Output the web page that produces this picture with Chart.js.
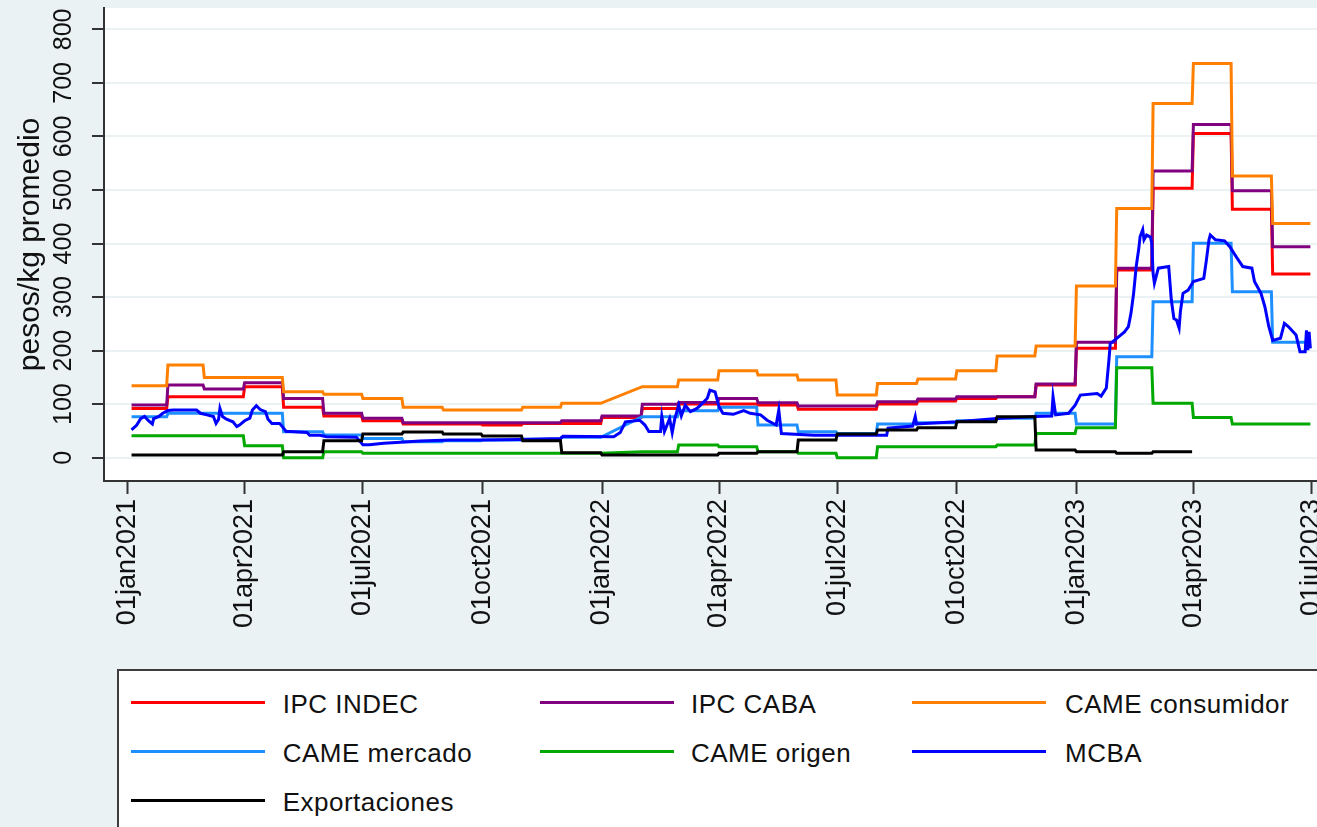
<!DOCTYPE html>
<html><head><meta charset="utf-8">
<script src="https://cdn.jsdelivr.net/npm/chart.js@4/dist/chart.umd.min.js"></script>
<style>
html,body{margin:0;padding:0;width:1317px;height:827px;overflow:hidden;background:rgb(234,242,243);}
#wrap{position:absolute;left:0;top:0;width:1345px;height:660px;}
#legend{position:absolute;left:117px;top:669px;width:1300px;height:220px;background:#fff;border:2px solid #3c3c3c;box-sizing:border-box;}
.li{position:absolute;height:3px;width:134px;}
.lt{position:absolute;font:26px 'Liberation Sans',Arial,sans-serif;color:#111;line-height:26px;white-space:nowrap;letter-spacing:0.5px;}
</style></head>
<body>
<div id="wrap"><canvas id="c" width="1345" height="660" style="width:1345px;height:660px"></canvas></div>
<div id="legend"></div>
<script>
// ---- data ----
const months = ['2021-01','2021-02','2021-03','2021-04','2021-05','2021-06','2021-07','2021-08','2021-09','2021-10','2021-11','2021-12',
                '2022-01','2022-02','2022-03','2022-04','2022-05','2022-06','2022-07','2022-08','2022-09','2022-10','2022-11','2022-12',
                '2023-01','2023-02','2023-03','2023-04','2023-05','2023-06'];
const seriesStart = '2021-01-04';
const seriesEnd = '2023-06-30';

const ipcIndec = [92.1,113.9,113.9,132.6,94.0,77.8,69.1,62.9,62.9,61.0,64.1,64.1,
                  75.3,92.1,100.2,100.2,98.4,90.3,90.3,100.2,105.8,110.8,113.9,135.7,
                  204.2,350.5,503.0,605.7,463.8,343.0];
const ipcCaba = [98.4,135.7,128.3,140.1,110.8,82.8,73.5,65.4,65.4,65.4,65.4,69.1,
                 77.8,99.7,103.3,110.8,102.7,96.5,96.5,104.6,109.6,113.9,113.9,137.6,
                 215.4,353.6,535.4,622.5,498.6,394.0];
const cameConsumidor = [134.5,173.1,150.0,150.0,123.3,118.3,110.8,94.0,89.0,89.0,94.0,101.5,
                        null,132.6,145.1,162.5,154.4,145.1,117.1,138.8,146.9,162.5,189.9,208.5,
                        320.6,465.6,661.7,736.4,526.0,437.6];
const cameMercado = [76.6,82.8,82.8,82.8,48.6,42.3,36.0,30.0,31.8,33.0,34.3,38.0,
                     null,76.6,87.8,94.0,61.0,48.6,45.4,62.9,65.4,69.0,73.5,82.8,
                     62.9,188.6,291.3,400.3,310.0,215.4];
const cameOrigen = [41.1,41.1,41.1,22.4,0.0,11.2,8.1,8.1,8.1,8.1,8.1,8.1,
                    null,11.2,23.7,20.6,11.2,8.1,0.0,20.6,20.6,20.6,23.7,45.4,
                    56.0,168.1,101.5,75.3,62.9,62.9];
const exportaciones = [5.0,5.0,5.0,5.0,11.2,31.8,44.2,47.9,44.2,40.5,31.8,9.3,
                       5.0,5.0,5.0,8.1,11.2,33.0,44.2,51.7,56.0,67.2,76.6,14.3,
                       11.2,8.1,11.2,null,null,null];

const mcbaDates = ['2021-01-04','2021-01-08','2021-01-11','2021-01-14','2021-01-17','2021-01-20','2021-01-21','2021-01-25','2021-01-28',
 '2021-02-01','2021-02-05','2021-02-23','2021-02-26',
 '2021-03-03','2021-03-08','2021-03-10','2021-03-12','2021-03-13','2021-03-15','2021-03-18','2021-03-23','2021-03-26','2021-03-28',
 '2021-04-01','2021-04-05','2021-04-07','2021-04-10','2021-04-13','2021-04-17','2021-04-19','2021-04-22','2021-04-28','2021-04-30',
 '2021-05-03','2021-05-06','2021-05-19','2021-05-21','2021-05-29',
 '2021-06-03','2021-06-26','2021-06-29',
 '2021-07-01','2021-07-06','2021-07-17','2021-07-30',
 '2021-08-14','2021-09-06','2021-10-02','2021-10-30','2021-11-30','2021-12-02',
 '2022-01-10','2022-01-15','2022-01-19','2022-01-30',
 '2022-02-03','2022-02-06','2022-02-15','2022-02-16','2022-02-18','2022-02-22','2022-02-24','2022-02-26',
 '2022-03-01','2022-03-03','2022-03-06','2022-03-10','2022-03-15','2022-03-19','2022-03-23','2022-03-25','2022-03-29',
 '2022-04-01','2022-04-04','2022-04-12','2022-04-20','2022-04-25',
 '2022-05-03','2022-05-08','2022-05-15','2022-05-17','2022-05-19',
 '2022-06-13','2022-06-30',
 '2022-07-11','2022-08-08','2022-08-09','2022-08-28','2022-08-30','2022-08-31',
 '2022-10-01','2022-11-01','2022-11-30',
 '2022-12-13','2022-12-14','2022-12-16','2022-12-26','2022-12-31',
 '2023-01-04','2023-01-17','2023-01-20','2023-01-24','2023-01-26','2023-01-27',
 '2023-02-01','2023-02-07','2023-02-10','2023-02-12','2023-02-14','2023-02-16','2023-02-18','2023-02-19','2023-02-21','2023-02-22','2023-02-24','2023-02-27','2023-02-28',
 '2023-03-01','2023-03-02','2023-03-05','2023-03-13','2023-03-15','2023-03-17','2023-03-19','2023-03-21','2023-03-22','2023-03-24','2023-03-28',
 '2023-04-01','2023-04-09','2023-04-11','2023-04-13','2023-04-14','2023-04-18','2023-04-25','2023-04-29',
 '2023-05-04','2023-05-09','2023-05-16','2023-05-18','2023-05-23','2023-05-26','2023-05-29',
 '2023-06-01','2023-06-07','2023-06-10','2023-06-13','2023-06-19','2023-06-22','2023-06-26','2023-06-27','2023-06-28','2023-06-29','2023-06-30'];
const mcbaValues = [52,61,73,77,69,63,73,77,83,
 88,89,89,83,
 80,77,64,72,92,77,72,67,58,61,
 69,74,89,97,90,86,72,64,64,58,
 49,49,47,42,42,
 39,38,30,
 24,24,27,29,
 31,33,33,34,36,40,
 39,47,67,70,
 61,49,49,77,49,73,47,73,
 98,78,98,86,92,101,111,126,123,
 95,83,81,88,83,
 80,70,61,89,45,
 42,42,
 42,42,55,59,77,63,
 67,73,77,
 78,114,80,83,98,
 117,120,115,130,182,213,
 223,235,245,270,307,357,391,413,426,407,416,412,400,
 344,326,354,357,295,260,257,242,273,307,313,
 329,335,369,407,416,407,405,394,
 375,357,354,329,307,282,245,
 219,223,251,245,229,198,198,238,201,235,204];

const seriesNames = ['IPC INDEC','IPC CABA','CAME consumidor','CAME mercado','CAME origen','MCBA','Exportaciones'];
const seriesColors = ['#ff0000','#800080','#ff8000','#1e8fff','#00a800','#0000ff','#000000'];

const yTicks = [0,100,200,300,400,500,600,700,800];
const xTickDates = ['2021-01-01','2021-04-01','2021-07-01','2021-10-01','2022-01-01','2022-04-01','2022-07-01','2022-10-01','2023-01-01','2023-04-01','2023-07-01'];
const xTickLabels = ['01jan2021','01apr2021','01jul2021','01oct2021','01jan2022','01apr2022','01jul2022','01oct2022','01jan2023','01apr2023','01jul2023'];

// ---- helpers ----
const DAY = 86400000, BASE = Date.UTC(2021,0,1);
function toDay(s){ const p = s.split('-').map(Number); return (Date.UTC(p[0],p[1]-1,p[2]||1)-BASE)/DAY; }
function monthlySteps(vals){
  const pts = [];
  months.forEach((m,i)=>{
    const v = vals[i]; if (v === null || v === undefined) return;
    const p = m.split('-').map(Number);
    let s = (Date.UTC(p[0],p[1]-1,1)-BASE)/DAY;
    if (i === 0) s = toDay(seriesStart);
    let e = (Date.UTC(p[0],p[1],0)-BASE)/DAY;
    if (i === months.length-1) e = toDay(seriesEnd);
    pts.push({x:s,y:v},{x:e,y:v});
  });
  return pts;
}
const mcbaPts = mcbaDates.map((d,i)=>({x:toDay(d), y:mcbaValues[i]}));
const seriesData = [monthlySteps(ipcIndec), monthlySteps(ipcCaba), monthlySteps(cameConsumidor),
                    monthlySteps(cameMercado), monthlySteps(cameOrigen), mcbaPts, monthlySteps(exportaciones)];

const FONT = "'Liberation Sans', Arial, sans-serif";

const plotBg = { id:'plotBg', beforeDraw(chart){
  const {ctx, chartArea:a} = chart;
  ctx.save(); ctx.fillStyle = '#ffffff';
  ctx.fillRect(a.left, a.top, a.right-a.left, a.bottom-a.top);
  ctx.restore();
}};

new Chart(document.getElementById('c'), {
  type: 'line',
  data: {
    datasets: seriesNames.map((n,i)=>({
      label: n, data: seriesData[i], borderColor: seriesColors[i], backgroundColor: seriesColors[i],
      borderWidth: 3, pointRadius: 0, tension: 0, fill: false, order: seriesNames.length-1-i,
      borderJoinStyle: 'miter', borderCapStyle: 'butt'
    }))
  },
  options: {
    responsive: false, animation: false, devicePixelRatio: 1,
    layout: { padding: { left: 0, top: 8, right: 5, bottom: 0 } },
    plugins: { legend: { display: false }, tooltip: { enabled: false } },
    scales: {
      x: {
        type: 'linear', min: -18.2, max: 932.8,
        afterBuildTicks: s => { s.ticks = xTickDates.map(d => ({ value: toDay(d) })); },
        afterFit: s => { s.height = 179; s.paddingLeft = 0; s.paddingRight = 0; },
        ticks: {
          autoSkip: false, minRotation: 90, maxRotation: 90, padding: 5, color: '#111',
          font: { family: FONT, size: 27 },
          callback: (v) => { const i = xTickDates.findIndex(d => toDay(d) === v); return i >= 0 ? xTickLabels[i] : ''; }
        },
        grid: { display: true, drawOnChartArea: false, drawTicks: true, tickLength: 13, tickColor: '#333', tickWidth: 2 },
        border: { display: true, color: '#333', width: 2 }
      },
      y: {
        type: 'linear', min: -43.5, max: 839.85,
        afterBuildTicks: s => { s.ticks = yTicks.map(v => ({ value: v })); },
        afterFit: s => { s.width = 104; s.paddingTop = 0; s.paddingBottom = 0; },
        ticks: {
          minRotation: 90, maxRotation: 90, crossAlign: 'center', padding: 7, color: '#111',
          font: { family: FONT, size: 25 }
        },
        grid: { color: 'rgb(234,242,243)', lineWidth: 2, drawTicks: true, tickLength: 12, tickColor: '#333', tickWidth: 2 },
        border: { display: true, color: '#333', width: 2 },
        title: { display: true, text: 'pesos/kg promedio', color: '#111', font: { family: FONT, size: 30 }, padding: { top: 13, bottom: 0 } }
      }
    }
  },
  plugins: [plotBg]
});

// ---- legend (HTML, 3 columns like the original) ----
const legend = document.getElementById('legend');
const colLine = [11.7, 421, 793], colText = [163.7, 572, 946];
const rowLine = [29.8, 78.8, 127.8], rowText = [19.7, 68.7, 117.7];
seriesNames.forEach((n,i)=>{
  const c = i % 3, r = Math.floor(i / 3);
  const l = document.createElement('div'); l.className = 'li';
  l.style.left = colLine[c] + 'px'; l.style.top = rowLine[r] + 'px'; l.style.background = seriesColors[i];
  const t = document.createElement('div'); t.className = 'lt';
  t.style.left = colText[c] + 'px'; t.style.top = rowText[r] + 'px'; t.textContent = n;
  legend.appendChild(l); legend.appendChild(t);
});
</script>
</body></html>
